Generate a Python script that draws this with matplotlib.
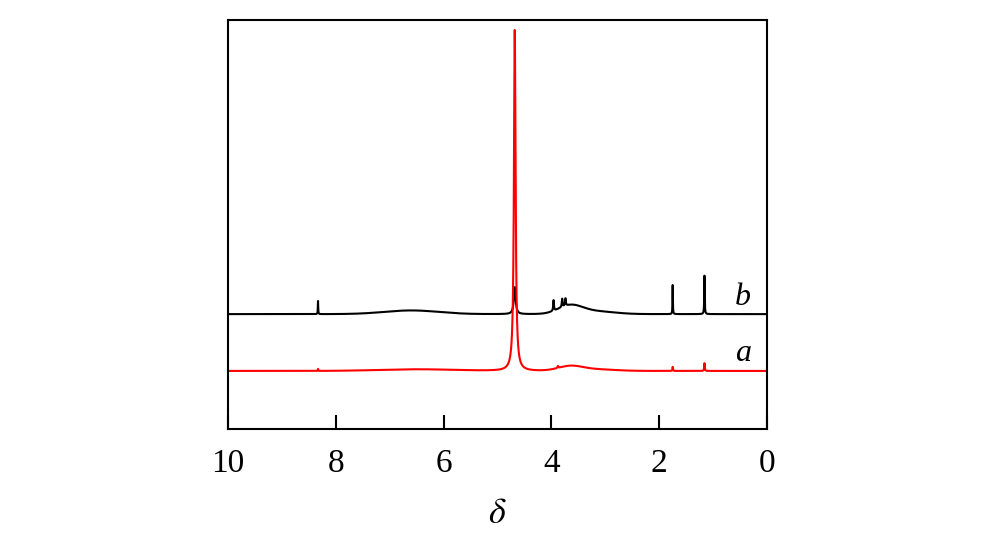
import numpy as np
import matplotlib
matplotlib.use("Agg")
import matplotlib.pyplot as plt

plt.rcParams['font.family'] = ['Liberation Serif', 'DejaVu Serif']
plt.rcParams['mathtext.fontset'] = 'stix'

# chemical shift axis (ppm)
shifts = np.linspace(10, 0, 20001)

# spectrum b (black): sharp peaks
b_offset = 28.1
b_pos = [8.33, 4.68, 3.96, 3.80, 3.74, 1.75, 1.16]
b_height = [3.2, 6.6, 2.6, 2.0, 1.8, 7.1, 9.4]
b_width = [0.004, 0.02, 0.008, 0.008, 0.008, 0.004, 0.005]
# broad humps of b
b_hump_pos = [6.6, 3.65, 3.2]
b_hump_height = [0.9, 2.0, 0.7]
b_hump_width = [0.5, 0.22, 0.35]

# spectrum a (red)
a_offset = 14.2
a_pos = [8.33, 4.68, 3.88, 1.75, 1.16]
a_height = [0.5, 83.4, 0.5, 1.0, 1.9]
a_width = [0.004, 0.018, 0.008, 0.005, 0.006]
a_hump_pos = [6.5, 3.65, 3.2]
a_hump_height = [0.4, 1.1, 0.4]
a_hump_width = [0.7, 0.22, 0.35]


def spectrum(offset, pos, height, width, hpos, hheight, hwidth):
    y = np.full_like(shifts, offset)
    for p, h, w in zip(pos, height, width):
        y += h * w**2 / ((shifts - p)**2 + w**2)
    for p, h, w in zip(hpos, hheight, hwidth):
        y += h * np.exp(-0.5 * ((shifts - p) / w)**2)
    return y


ya = spectrum(a_offset, a_pos, a_height, a_width, a_hump_pos, a_hump_height, a_hump_width)
yb = spectrum(b_offset, b_pos, b_height, b_width, b_hump_pos, b_hump_height, b_hump_width)

fig = plt.figure(figsize=(10, 5.4), dpi=100)
ax = fig.add_axes([0.228, 0.2056, 0.539, 0.757])

ax.plot(shifts, yb, color='black', lw=1.5)
ax.plot(shifts, ya, color='red', lw=1.5)

ax.text(0.45, b_offset + 0.4, 'b', fontsize=23, style='italic', ha='center', va='bottom')
ax.text(0.45, a_offset + 0.6, 'a', fontsize=23, style='italic', ha='center', va='bottom')

ax.set_xlim(10, 0)
ax.set_ylim(0, 100)
ax.set_xticks([10, 8, 6, 4, 2, 0])
ax.set_yticks([])
ax.tick_params(axis='x', direction='in', length=10, width=1.5, labelsize=24, pad=14, top=False)
for s in ax.spines.values():
    s.set_linewidth(1.5)
ax.set_xlabel(r'$\delta$', fontsize=26, labelpad=14)

fig.savefig('out.png', dpi=100)
